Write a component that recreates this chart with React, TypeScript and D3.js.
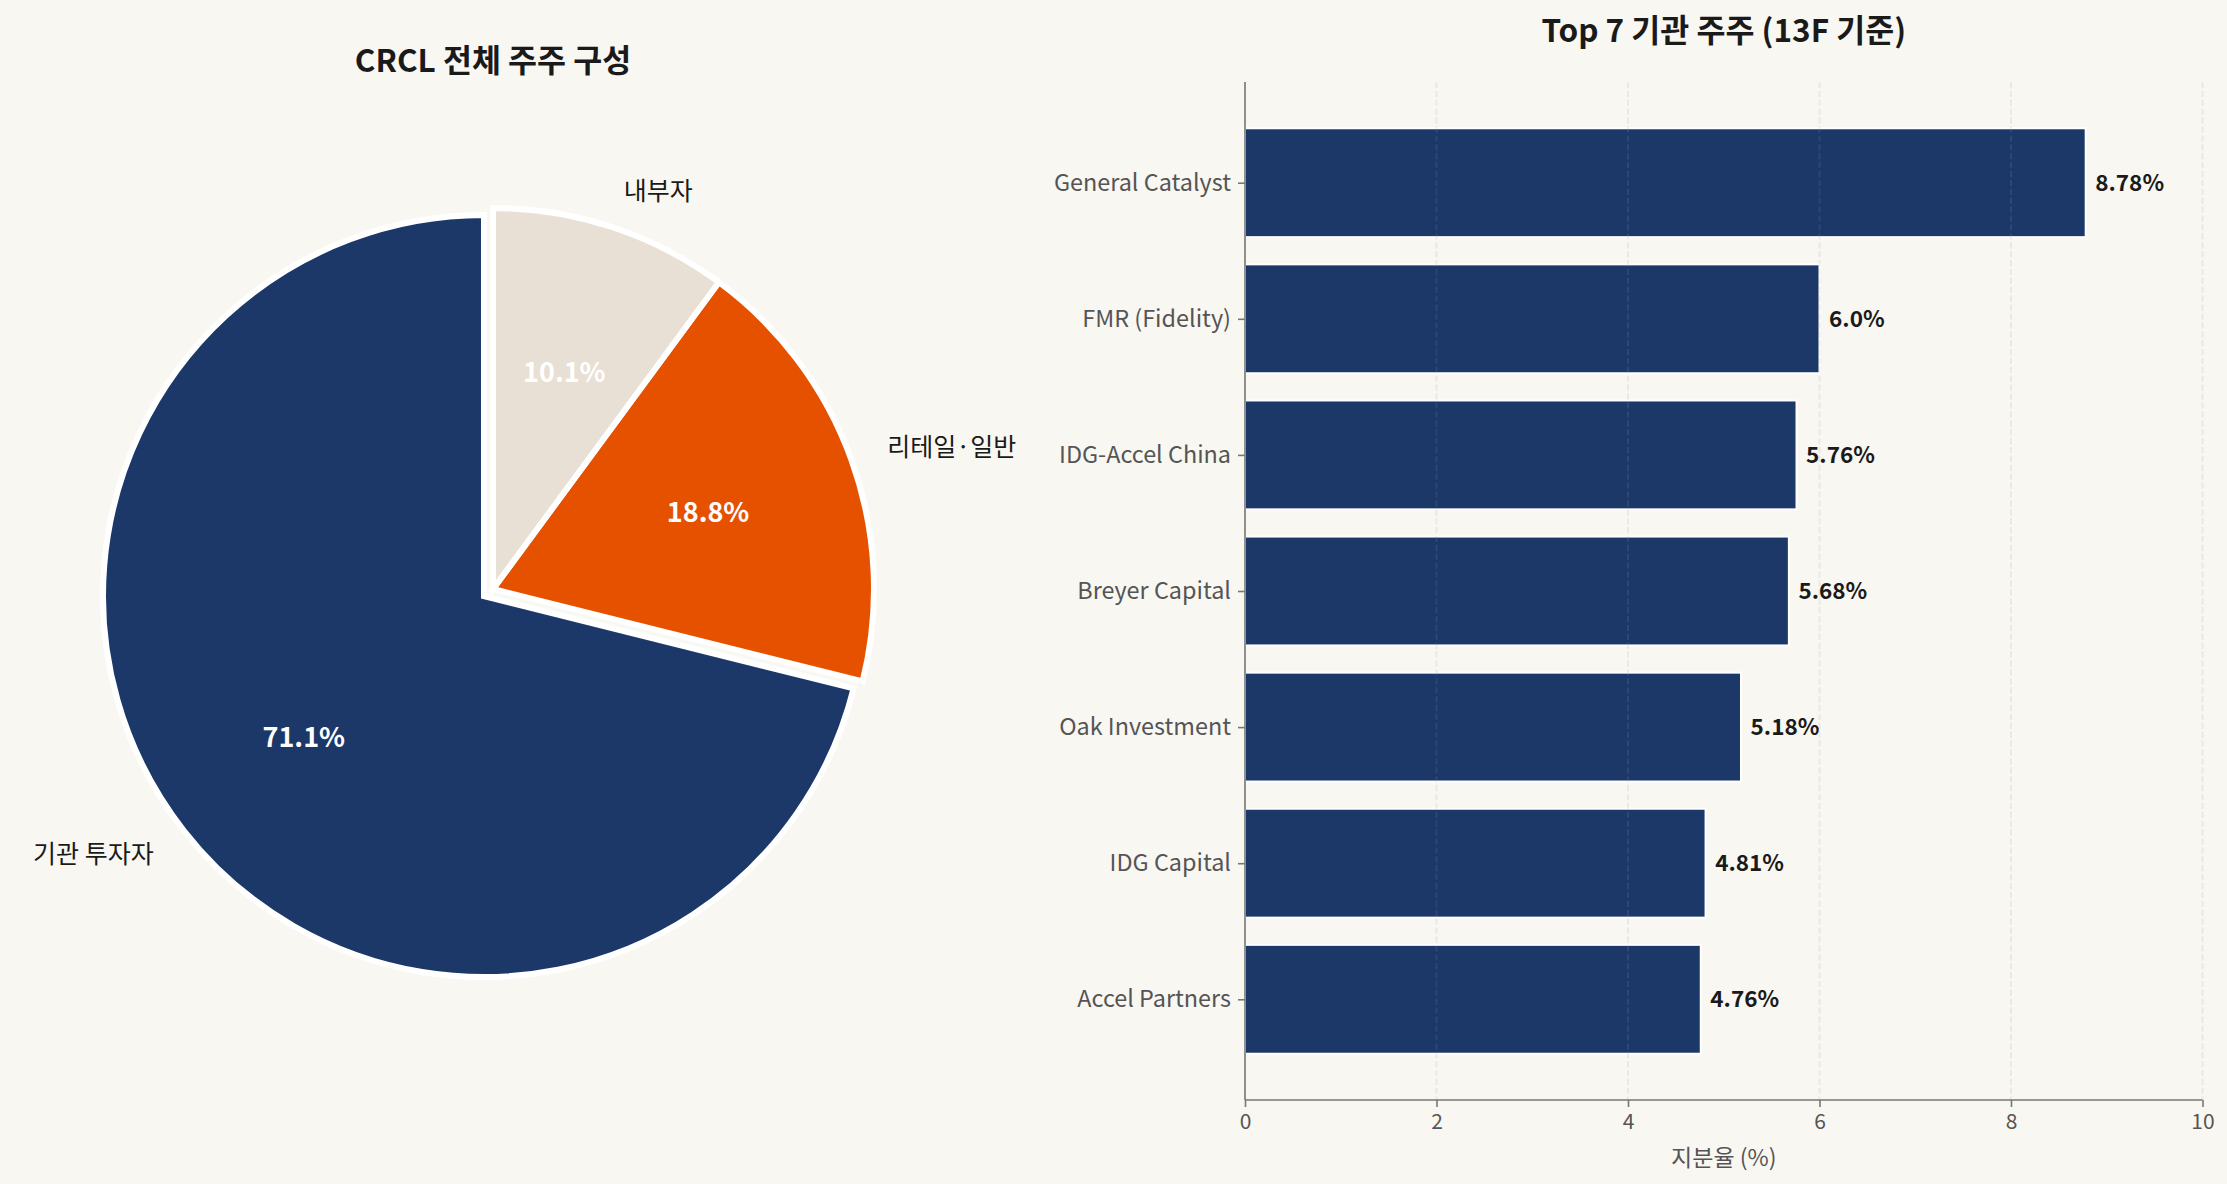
import * as d3 from 'd3';
import { useEffect, useRef } from 'react';

const W = 2227;
const H = 1184;

// pie: drawn counter-clockwise from 12 o'clock, like matplotlib's startangle=90
const pieLabels = ['기관 투자자', '리테일·일반', '내부자'];
const pieValues = [71.1, 18.8, 10.1];
const pieColors = ['#1c3869', '#e65100', '#e8e0d4'];
const pieExplode = [0.03, 0, 0];

// bars
const holders = [
  'General Catalyst',
  'FMR (Fidelity)',
  'IDG-Accel China',
  'Breyer Capital',
  'Oak Investment',
  'IDG Capital',
  'Accel Partners',
];
const holdings = [8.78, 6.0, 5.76, 5.68, 5.18, 4.81, 4.76];
const holdingLabels = ['8.78%', '6.0%', '5.76%', '5.68%', '5.18%', '4.81%', '4.76%'];
const xTicks = [0, 2, 4, 6, 8, 10];

const FONT = "'Noto Sans CJK KR', 'Noto Sans', sans-serif";
const BG = '#f9f7f2';
const NAVY = '#1c3869';

export default function App() {
  const svgRef = useRef<SVGSVGElement>(null);

  useEffect(() => {
    if (svgRef.current == null) {
      return;
    }
    const svg = d3.select(svgRef.current);
    svg.selectAll('*').remove();
    svg.append('rect').attr('width', W).attr('height', H).attr('fill', BG);

    // ---------- pie ----------
    const cx = 493;
    const cy = 589;
    const r = 381;

    svg
      .append('text')
      .attr('x', cx)
      .attr('y', 58)
      .attr('text-anchor', 'middle')
      .attr('dominant-baseline', 'central')
      .attr('font-family', FONT)
      .attr('font-weight', 'bold')
      .attr('font-size', 31.5)
      .attr('fill', '#1a1a1a')
      .text('CRCL 전체 주주 구성');

    const pie = d3
      .pie<number>()
      .sort(null)
      .startAngle(0)
      .endAngle(-2 * Math.PI);
    const arcs = pie(pieValues);
    const arc = d3.arc<d3.PieArcDatum<number>>().innerRadius(0).outerRadius(r);

    const centers = arcs.map((a, i) => {
      const mid = (a.startAngle + a.endAngle) / 2;
      const off = pieExplode[i] * r;
      return {
        mid,
        x: cx + Math.sin(mid) * off,
        y: cy - Math.cos(mid) * off,
      };
    });

    arcs.forEach((a, i) => {
      svg
        .append('path')
        .attr('transform', `translate(${centers[i].x},${centers[i].y})`)
        .attr('d', arc(a))
        .attr('fill', pieColors[i])
        .attr('stroke', '#ffffff')
        .attr('stroke-width', 6)
        .attr('stroke-linejoin', 'miter');
    });

    arcs.forEach((a, i) => {
      const { mid, x, y } = centers[i];
      const dx = Math.sin(mid);
      const dy = -Math.cos(mid);
      svg
        .append('text')
        .attr('x', x + dx * r * 1.1)
        .attr('y', y + dy * r * 1.1 - 2)
        .attr('text-anchor', dx > 0 ? 'start' : 'end')
        .attr('dominant-baseline', 'central')
        .attr('font-family', FONT)
        .attr('font-size', 25)
        .attr('fill', '#1a1a1a')
        .text(pieLabels[i]);
      svg
        .append('text')
        .attr('x', x + dx * r * 0.6)
        .attr('y', y + dy * r * 0.6 - 1)
        .attr('text-anchor', 'middle')
        .attr('dominant-baseline', 'central')
        .attr('font-family', FONT)
        .attr('font-weight', 'bold')
        .attr('font-size', 27)
        .attr('fill', '#ffffff')
        .text(`${a.data.toFixed(1)}%`);
    });

    // ---------- bars ----------
    const left = 1245;
    const right = 2202.5;
    const top = 82;
    const bottom = 1100;

    const xScale = d3.scaleLinear().domain([0, 10]).range([left, right]);
    const yScale = d3
      .scaleLinear()
      .domain([-0.74, holders.length - 1 + 0.74])
      .range([top, bottom]);
    const barH = yScale(0.8) - yScale(0);

    svg
      .append('text')
      .attr('x', (left + right) / 2)
      .attr('y', 28)
      .attr('text-anchor', 'middle')
      .attr('dominant-baseline', 'central')
      .attr('font-family', FONT)
      .attr('font-weight', 'bold')
      .attr('font-size', 31.5)
      .attr('fill', '#1a1a1a')
      .text('Top 7 기관 주주 (13F 기준)');

    const g = svg.append('g');
    holdings.forEach((v, i) => {
      g.append('rect')
        .attr('x', xScale(0))
        .attr('y', yScale(i) - barH / 2)
        .attr('width', xScale(v) - xScale(0))
        .attr('height', barH)
        .attr('fill', NAVY)
        .attr('stroke', '#ffffff')
        .attr('stroke-width', 2);
    });

    // dashed grid, drawn over the bars
    xTicks.forEach((t) => {
      g.append('line')
        .attr('x1', xScale(t))
        .attr('x2', xScale(t))
        .attr('y1', top)
        .attr('y2', bottom)
        .attr('stroke', '#999999')
        .attr('stroke-opacity', 0.15)
        .attr('stroke-width', 2)
        .attr('stroke-dasharray', '6.2,2.7');
    });

    holdings.forEach((v, i) => {
      g.append('text')
        .attr('x', xScale(v + 0.1))
        .attr('y', yScale(i) - 2)
        .attr('dominant-baseline', 'central')
        .attr('font-family', FONT)
        .attr('font-weight', 'bold')
        .attr('font-size', 22.5)
        .attr('fill', '#1a1a1a')
        .text(holdingLabels[i]);
    });

    const xAxis = d3
      .axisBottom(xScale)
      .tickValues(xTicks)
      .tickFormat(d3.format('d'))
      .tickSize(7)
      .tickPadding(7);
    const xg = svg
      .append('g')
      .attr('transform', `translate(0,${bottom})`)
      .call(xAxis);
    xg.select('.domain').remove();
    xg.selectAll('line').attr('stroke', '#777777').attr('stroke-width', 1.6);
    xg.selectAll('text')
      .attr('font-family', FONT)
      .attr('font-size', 21)
      .attr('fill', '#555555');

    const yAxis = d3
      .axisLeft(yScale)
      .tickValues(holders.map((_, i) => i))
      .tickFormat((_, i) => holders[i])
      .tickSize(7)
      .tickPadding(7);
    const yg = svg
      .append('g')
      .attr('transform', `translate(${left},0)`)
      .call(yAxis);
    yg.select('.domain').remove();
    yg.selectAll('line').attr('stroke', '#777777').attr('stroke-width', 1.6);
    yg.selectAll('text')
      .attr('font-family', FONT)
      .attr('font-size', 23.4)
      .attr('fill', '#555555');

    // spines
    svg
      .append('line')
      .attr('x1', left)
      .attr('x2', left)
      .attr('y1', top)
      .attr('y2', bottom)
      .attr('stroke', '#777777')
      .attr('stroke-width', 1.6);
    svg
      .append('line')
      .attr('x1', left)
      .attr('x2', right)
      .attr('y1', bottom)
      .attr('y2', bottom)
      .attr('stroke', '#777777')
      .attr('stroke-width', 1.6);

    svg
      .append('text')
      .attr('x', (left + right) / 2)
      .attr('y', 1156)
      .attr('text-anchor', 'middle')
      .attr('dominant-baseline', 'central')
      .attr('font-family', FONT)
      .attr('font-size', 23)
      .attr('fill', '#555555')
      .text('지분율 (%)');
  }, []);

  return (
    <svg
      ref={svgRef}
      width={W}
      height={H}
      style={{ position: 'absolute', left: 0, top: 0, display: 'block' }}
    />
  );
}
